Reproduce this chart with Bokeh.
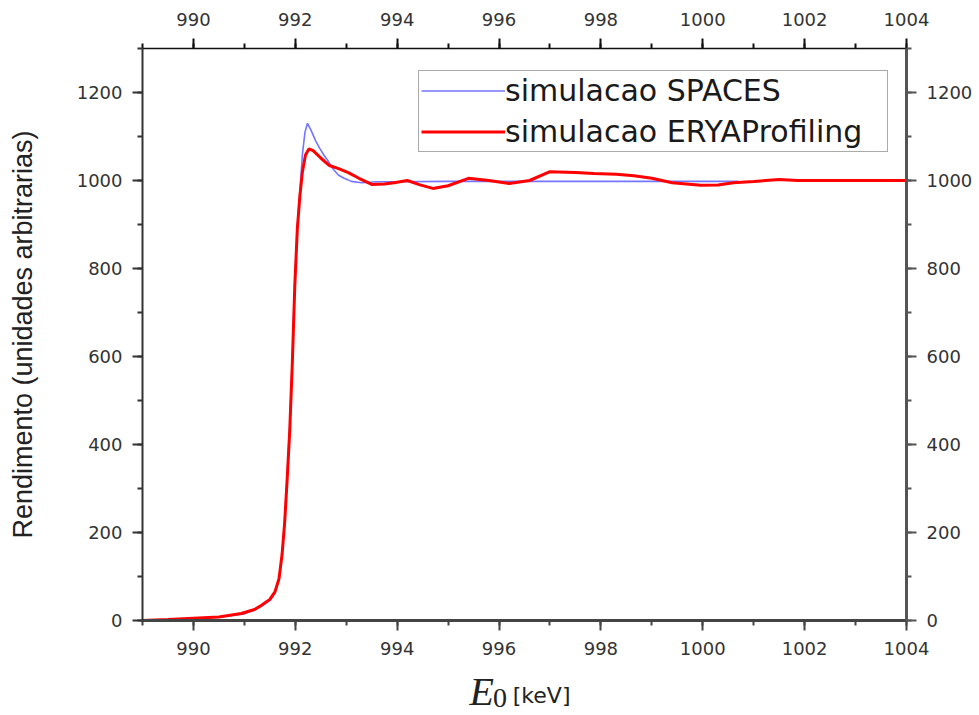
from bokeh.plotting import figure
from bokeh.models import (LinearAxis, SingleIntervalTicker, Range1d, Legend, LegendItem)
from bokeh.layouts import column
from bokeh.core.properties import value
from bokeh.embed import file_html
from bokeh.resources import INLINE

# ---- data ----
x_erya = [989.0, 989.5, 990.0, 990.5, 990.94, 991.2, 991.33, 991.5, 991.6, 991.68, 991.74,
          991.79, 991.84, 991.89, 991.94, 991.99, 992.04, 992.09, 992.14, 992.2, 992.27,
          992.35, 992.51, 992.67, 992.85, 993.04, 993.25, 993.5, 993.75, 993.94, 994.2,
          994.45, 994.7, 995.0, 995.4, 995.8, 996.2, 996.6, 997.0, 997.5, 997.86, 998.3,
          998.65, 999.0, 999.4, 999.96, 1000.3, 1000.6, 1001.0, 1001.5, 1001.86, 1002.5,
          1003.0, 1004.0]
y_erya = [0, 2, 5, 8, 16, 25, 34, 48, 65, 95, 150,
          220, 320, 430, 580, 760, 890, 965, 1020, 1058, 1072,
          1068, 1050, 1034, 1027, 1018, 1005, 991, 992, 995, 1000,
          990, 982, 988, 1005, 1000, 993, 1000, 1020, 1018, 1016, 1014,
          1011, 1005, 995, 989, 990, 995, 998, 1002, 1000, 1000,
          1000, 1000]

x_spaces = [989.65, 990.0, 990.5, 991.0, 991.3, 991.5, 991.6, 991.68, 991.74, 991.79, 991.84,
            991.89, 991.94, 991.99, 992.04, 992.09, 992.14, 992.19, 992.24, 992.31, 992.4,
            992.48, 992.56, 992.64, 992.75, 992.85, 992.96, 993.1, 993.3, 993.6, 994.0,
            995.0, 996.0, 997.0, 998.0, 999.0, 1000.0, 1000.7]
y_spaces = [3, 5, 8, 15, 30, 45, 62, 92, 150, 225, 330,
            440, 590, 770, 900, 975, 1060, 1110, 1130, 1114, 1090,
            1073, 1058, 1045, 1025, 1012, 1005, 998, 995, 997, 997,
            998, 998, 998, 998, 998, 998, 998]

series_names = ["simulacao SPACES", "simulacao ERYAProfiling"]
y_label = "Rendimento (unidades arbitrarias)"
x_label_main = ["E"]
x_label_sub = ["0"]
x_label_unit = ["[keV]"]
x_label_pos = [995.42, 995.88, 996.27]

TICK_FONT = "DejaVu Sans"
H1 = 663
H2 = 715 - H1

p = figure(width=979, height=H1, output_backend="svg", toolbar_location=None,
           x_range=Range1d(989, 1004), y_range=Range1d(0, 1300),
           min_border_left=142, min_border_right=73, min_border_top=48, min_border_bottom=H1 - 620,
           x_axis_location=None, y_axis_location=None)
p.outline_line_color = None
p.xgrid.visible = False
p.ygrid.visible = False

def style(ax, lw=2, color="#3a3a3a"):
    ax.axis_line_color = color
    ax.axis_line_width = lw
    ax.major_tick_line_color = color
    ax.minor_tick_line_color = color
    ax.major_tick_line_width = 2
    ax.minor_tick_line_width = 2
    ax.major_tick_in = 0
    ax.major_tick_out = 10
    ax.minor_tick_in = 0
    ax.minor_tick_out = 5
    ax.major_label_text_font = TICK_FONT
    ax.major_label_text_font_size = "18px"
    ax.major_label_text_color = "#333333"

bottom = LinearAxis(ticker=SingleIntervalTicker(interval=2, num_minor_ticks=2))
style(bottom, lw=3, color="#444444")
bottom.major_label_standoff = 11
p.add_layout(bottom, "below")

top = LinearAxis(ticker=SingleIntervalTicker(interval=2, num_minor_ticks=2))
style(top, lw=1.5, color="#111111")
top.major_label_standoff = 13
p.add_layout(top, "above")

left = LinearAxis(ticker=SingleIntervalTicker(interval=200, num_minor_ticks=2),
                  axis_label=y_label)
style(left, lw=2, color="#333333")
left.major_label_standoff = 10
left.axis_label_text_font = "Liberation Sans"
left.axis_label_text_font_size = "27px"
left.axis_label_text_font_style = "normal"
left.axis_label_text_color = "#222222"
left.axis_label_standoff = 36
p.add_layout(left, "left")

right = LinearAxis(ticker=SingleIntervalTicker(interval=200, num_minor_ticks=2))
style(right, lw=3, color="#555555")
right.major_label_standoff = 10
p.add_layout(right, "right")

r_sp = p.line(x_spaces, y_spaces, line_color="#7575ff", line_width=1.6)
r_er = p.line(x_erya, y_erya, line_color="#ff0000", line_width=3)

legend = Legend(items=[LegendItem(label=series_names[0], renderers=[r_sp]),
                       LegendItem(label=series_names[1], renderers=[r_er])],
                location=(276, 468), orientation="vertical")
legend.label_text_font = TICK_FONT
legend.label_text_font_size = "30px"
legend.label_text_color = "#1a1a1a"
legend.label_standoff = 0
legend.glyph_width = 84
legend.glyph_height = 35
legend.label_height = 35
legend.label_width = 380
legend.padding = 2
legend.spacing = 6
legend.margin = 0
legend.border_line_color = "#555555"
legend.border_line_width = 1.5
p.add_layout(legend, "center")

# strip below the plot holding the x-axis title (italic E with subscript 0, then unit)
p2 = figure(width=979, height=H2, output_backend="svg", toolbar_location=None,
            x_range=p.x_range, y_range=Range1d(0, H2),
            min_border_left=142, min_border_right=73, min_border_top=0, min_border_bottom=0,
            x_axis_location=None, y_axis_location=None)
p2.outline_line_color = None
p2.xgrid.visible = False
p2.ygrid.visible = False
p2.text(x=[x_label_pos[0]], y=[24], text=x_label_main, text_font=value("Liberation Serif"),
        text_font_style="italic", text_font_size="40px", text_color="#222222",
        text_baseline="alphabetic", text_align="left")
p2.text(x=[x_label_pos[1]], y=[18], text=x_label_sub, text_font=value("Liberation Serif"),
        text_font_size="28px", text_color="#222222",
        text_baseline="alphabetic", text_align="left")
p2.text(x=[x_label_pos[2]], y=[20], text=x_label_unit, text_font=value(TICK_FONT),
        text_font_size="22px", text_color="#222222",
        text_baseline="alphabetic", text_align="left")

layout = column(p, p2, spacing=0)
open("out.html", "w").write(file_html(layout, INLINE))
